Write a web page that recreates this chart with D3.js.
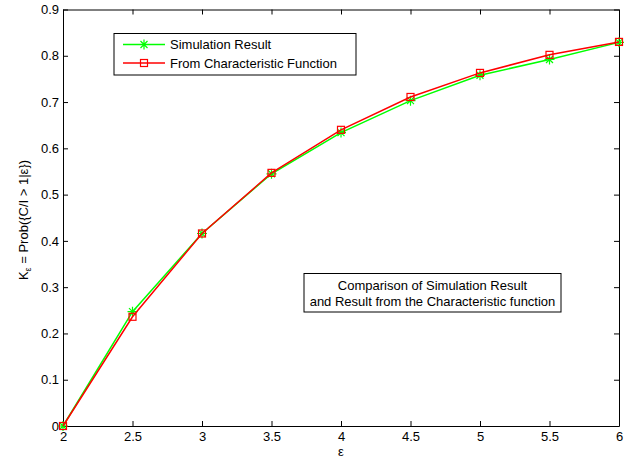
<!DOCTYPE html>
<html><head><meta charset="utf-8">
<script src="https://cdn.jsdelivr.net/npm/d3@7/dist/d3.min.js"></script>
<style>body{margin:0;background:#fff}svg{display:block}text{font-family:"Liberation Sans",Arial,sans-serif;fill:#000}</style>
</head><body><svg id="c" width="634" height="462"></svg>
<script>
const epsValues = [2, 2.5, 3, 3.5, 4, 4.5, 5, 5.5, 6];
const simulation = [0, 0.247, 0.416, 0.545, 0.634, 0.703, 0.758, 0.792, 0.829];
const characteristic = [0, 0.236, 0.416, 0.547, 0.640, 0.711, 0.763, 0.802, 0.830];
const xTicks = [2, 2.5, 3, 3.5, 4, 4.5, 5, 5.5, 6];
const yTicks = [0, 0.1, 0.2, 0.3, 0.4, 0.5, 0.6, 0.7, 0.8, 0.9];
const seriesNames = ["Simulation Result", "From Characteristic Function"];
const noteLines = ["Comparison of Simulation Result", "and Result from the Characteristic function"];

const svg = d3.select("#c");
const L = 63, R = 619, T = 9.5, B = 426;
const x = d3.scaleLinear().domain([2, 6]).range([L, R]);
const y = d3.scaleLinear().domain([0, 0.9]).range([B, T]);
const fs = 13;

// axes
const fmt = d => d === 0 ? "0" : String(d);
const gx = svg.append("g").attr("transform", `translate(0,${B})`)
  .call(d3.axisBottom(x).tickValues(xTicks).tickFormat(fmt).tickSizeInner(-5).tickSizeOuter(0));
const gxt = svg.append("g").attr("transform", `translate(0,${T})`)
  .call(d3.axisTop(x).tickValues(xTicks).tickFormat("").tickSizeInner(-5).tickSizeOuter(0));
const gy = svg.append("g").attr("transform", `translate(${L},0)`)
  .call(d3.axisLeft(y).tickValues(yTicks).tickFormat(fmt).tickSizeInner(-5).tickSizeOuter(0));
const gyr = svg.append("g").attr("transform", `translate(${R},0)`)
  .call(d3.axisRight(y).tickValues(yTicks).tickFormat("").tickSizeInner(-5).tickSizeOuter(0));
[gx, gxt, gy, gyr].forEach(g => {
  g.select(".domain").attr("stroke", "#000").attr("stroke-width", 1);
  g.selectAll(".tick line").attr("stroke", "#000");
  g.selectAll(".tick text").attr("font-size", fs).attr("font-family", '"Liberation Sans",Arial,sans-serif').attr("fill", "#000");
});
gx.selectAll(".tick text").attr("y", 6).attr("dy", "0.71em");
gy.selectAll(".tick text").attr("x", -4);

// series
const line = d3.line().x((d, i) => x(epsValues[i])).y(d => y(d));
svg.append("path").datum(simulation).attr("d", line).attr("fill", "none").attr("stroke", "#00ff00").attr("stroke-width", 1.5);
function star(g, cx, cy, s, col) {
  const p = `M${cx - s},${cy}L${cx + s},${cy}M${cx},${cy - s}L${cx},${cy + s}` +
    `M${cx - s * 0.7},${cy - s * 0.7}L${cx + s * 0.7},${cy + s * 0.7}M${cx - s * 0.7},${cy + s * 0.7}L${cx + s * 0.7},${cy - s * 0.7}`;
  g.append("path").attr("d", p).attr("stroke", col).attr("stroke-width", 1.2).attr("fill", "none");
}
const gs = svg.append("g");
simulation.forEach((d, i) => star(gs, x(epsValues[i]), y(d), 5, "#00ff00"));

svg.append("path").datum(characteristic).attr("d", line).attr("fill", "none").attr("stroke", "#ff0000").attr("stroke-width", 1.5);
svg.append("g").selectAll("rect").data(characteristic).join("rect")
  .attr("x", (d, i) => x(epsValues[i]) - 3.5).attr("y", d => y(d) - 3.5)
  .attr("width", 7).attr("height", 7).attr("fill", "none").attr("stroke", "#ff0000").attr("stroke-width", 1.2);

// legend
const lg = svg.append("g");
lg.append("rect").attr("x", 114).attr("y", 33.5).attr("width", 242).attr("height", 41.5)
  .attr("fill", "#fff").attr("stroke", "#000").attr("stroke-width", 1);
const rows = [44.5, 63];
lg.append("line").attr("x1", 123).attr("x2", 165).attr("y1", rows[0]).attr("y2", rows[0]).attr("stroke", "#00ff00").attr("stroke-width", 1.5);
star(lg, 144, rows[0], 5, "#00ff00");
lg.append("line").attr("x1", 123).attr("x2", 165).attr("y1", rows[1]).attr("y2", rows[1]).attr("stroke", "#ff0000").attr("stroke-width", 1.5);
lg.append("rect").attr("x", 140.5).attr("y", rows[1] - 3.5).attr("width", 7).attr("height", 7).attr("fill", "none").attr("stroke", "#ff0000").attr("stroke-width", 1.2);
seriesNames.forEach((n, i) => lg.append("text").attr("x", 170).attr("y", rows[i]).attr("dy", "0.35em").attr("font-size", fs).text(n));

// note box
svg.append("rect").attr("x", 304).attr("y", 273.5).attr("width", 257).attr("height", 38.5)
  .attr("fill", "#fff").attr("stroke", "#000").attr("stroke-width", 1);
noteLines.forEach((t, i) => svg.append("text").attr("x", 432.5).attr("y", 285.5 + i * 16).attr("dy", "0.35em")
  .attr("text-anchor", "middle").attr("font-size", fs).text(t));

// axis labels
svg.append("text").attr("x", x(4)).attr("y", 456).attr("text-anchor", "middle").attr("font-size", fs).text("ε");
const yl = svg.append("text").attr("transform", `translate(28,220) rotate(-90)`).attr("text-anchor", "middle").attr("font-size", fs);
yl.append("tspan").text("K");
yl.append("tspan").attr("font-size", 9).attr("dy", 3).text("ε");
yl.append("tspan").attr("dy", -3).text(" = Prob({C/I > 1|ε})");
</script></body></html>
